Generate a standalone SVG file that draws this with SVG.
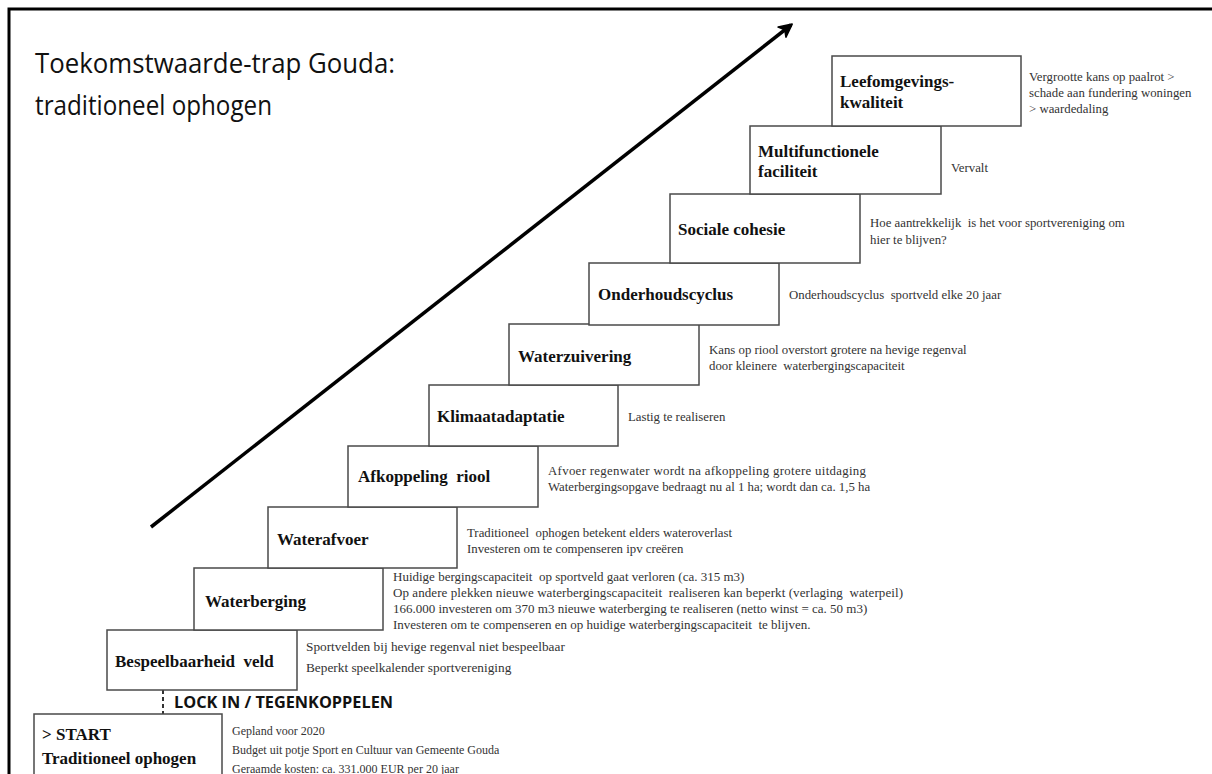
<svg xmlns="http://www.w3.org/2000/svg" width="1212" height="774" viewBox="0 0 1212 774">
<defs>
<style>
.box{fill:#fff;stroke:#4a4a4a;stroke-width:1.5}
.lbl{font-family:"Liberation Serif","Times New Roman",serif;font-weight:bold;font-size:17px;fill:#111;white-space:pre}
.desc{font-family:"Liberation Serif","Times New Roman",serif;font-size:12.8px;fill:#333;white-space:pre}
.title{font-family:"Open Sans","Liberation Sans",sans-serif;font-size:27px;fill:#111}
.lock{font-family:"Open Sans","Liberation Sans",sans-serif;font-weight:bold;font-size:16px;fill:#111}
</style>
<marker id="ah" viewBox="0 0 12 12" refX="9" refY="6" markerWidth="17" markerHeight="17" markerUnits="userSpaceOnUse" orient="auto">
<path d="M1,1.5 L10,6 L1,10.5 L3.5,6 z" fill="#000" stroke="#000" stroke-width="1.2" stroke-linejoin="round"/>
</marker>
</defs>
<rect width="1212" height="774" fill="#fff"/>
<path d="M9,774 V9 H1212" fill="none" stroke="#000" stroke-width="3"/>
<text class="title" x="35" y="73" textLength="360" lengthAdjust="spacingAndGlyphs">Toekomstwaarde-trap Gouda:</text>
<text class="title" x="35" y="115" textLength="237" lengthAdjust="spacingAndGlyphs">traditioneel ophogen</text>
<g id="connectors">
<line x1="151" y1="527" x2="791" y2="25" stroke="#000" stroke-width="3.5" marker-end="url(#ah)"/>
<line x1="163" y1="690" x2="163" y2="714" stroke="#333" stroke-width="2" stroke-dasharray="4,3"/>
</g>
<text class="lock" x="174" y="708" textLength="219" lengthAdjust="spacingAndGlyphs">LOCK IN / TEGENKOPPELEN</text>
<g id="start">
<rect class="box" x="34" y="714" width="188" height="70"/>
<text class="lbl" x="42" y="740">&gt; START</text>
<text class="lbl" x="42" y="764">Traditioneel ophogen</text>
<text class="desc" x="232" y="735" style="font-size:12px">Gepland voor 2020</text>
<text class="desc" x="232" y="754" style="font-size:12px">Budget uit potje Sport en Cultuur van Gemeente Gouda</text>
<text class="desc" x="232" y="773" style="font-size:12px">Geraamde kosten: ca. 331.000 EUR per 20 jaar</text>
</g>
<g id="bespeelbaarheid">
<rect class="box" x="107" y="630" width="190" height="60"/>
<text class="lbl" x="115" y="667">Bespeelbaarheid  veld</text>
<text class="desc" x="306" y="651" style="font-size:13.3px">Sportvelden bij hevige regenval niet bespeelbaar</text>
<text class="desc" x="306" y="672" style="font-size:13.3px">Beperkt speelkalender sportvereniging</text>
</g>
<g id="waterberging">
<rect class="box" x="194" y="568" width="189" height="62"/>
<text class="lbl" x="205" y="607">Waterberging</text>
<text class="desc" x="393" y="581" style="font-size:13px">Huidige bergingscapaciteit  op sportveld gaat verloren (ca. 315 m3)</text>
<text class="desc" x="393" y="597" style="font-size:13px" textLength="510" lengthAdjust="spacing">Op andere plekken nieuwe waterbergingscapaciteit  realiseren kan beperkt (verlaging  waterpeil)</text>
<text class="desc" x="393" y="613" style="font-size:13px">166.000 investeren om 370 m3 nieuwe waterberging te realiseren (netto winst = ca. 50 m3)</text>
<text class="desc" x="393" y="629" style="font-size:13px">Investeren om te compenseren en op huidige waterbergingscapaciteit  te blijven.</text>
</g>
<g id="waterafvoer">
<rect class="box" x="268" y="507" width="189" height="61"/>
<text class="lbl" x="277" y="545">Waterafvoer</text>
<text class="desc" x="467" y="537">Traditioneel  ophogen betekent elders wateroverlast</text>
<text class="desc" x="467" y="553">Investeren om te compenseren ipv creëren</text>
</g>
<g id="afkoppeling">
<rect class="box" x="348" y="446" width="190" height="61"/>
<text class="lbl" x="358" y="482">Afkoppeling  riool</text>
<text class="desc" x="548" y="475" textLength="318" lengthAdjust="spacing">Afvoer regenwater wordt na afkoppeling grotere uitdaging</text>
<text class="desc" x="548" y="491">Waterbergingsopgave bedraagt nu al 1 ha; wordt dan ca. 1,5 ha</text>
</g>
<g id="klimaatadaptatie">
<rect class="box" x="429" y="385" width="189" height="61"/>
<text class="lbl" x="437" y="422">Klimaatadaptatie</text>
<text class="desc" x="628" y="421">Lastig te realiseren</text>
</g>
<g id="waterzuivering">
<rect class="box" x="509" y="324" width="190" height="61"/>
<text class="lbl" x="518" y="362">Waterzuivering</text>
<text class="desc" x="709" y="354">Kans op riool overstort grotere na hevige regenval</text>
<text class="desc" x="709" y="370">door kleinere  waterbergingscapaciteit</text>
</g>
<g id="onderhoudscyclus">
<rect class="box" x="589" y="263" width="190" height="62"/>
<text class="lbl" x="598" y="300">Onderhoudscyclus</text>
<text class="desc" x="789" y="299">Onderhoudscyclus  sportveld elke 20 jaar</text>
</g>
<g id="sociale">
<rect class="box" x="670" y="194" width="190" height="69"/>
<text class="lbl" x="678" y="235">Sociale cohesie</text>
<text class="desc" x="870" y="227">Hoe aantrekkelijk  is het voor sportvereniging om</text>
<text class="desc" x="870" y="244">hier te blijven?</text>
</g>
<g id="multifunctionele">
<rect class="box" x="750" y="126" width="191" height="68"/>
<text class="lbl" x="758" y="157">Multifunctionele</text>
<text class="lbl" x="758" y="177">faciliteit</text>
<text class="desc" x="951" y="172">Vervalt</text>
</g>
<g id="leefomgeving">
<rect class="box" x="832" y="56" width="189" height="70"/>
<text class="lbl" x="840" y="87">Leefomgevings-</text>
<text class="lbl" x="840" y="108">kwaliteit</text>
<text class="desc" x="1029" y="81">Vergrootte kans op paalrot &gt;</text>
<text class="desc" x="1029" y="97">schade aan fundering woningen</text>
<text class="desc" x="1029" y="113">&gt; waardedaling</text>
</g>
</svg>
